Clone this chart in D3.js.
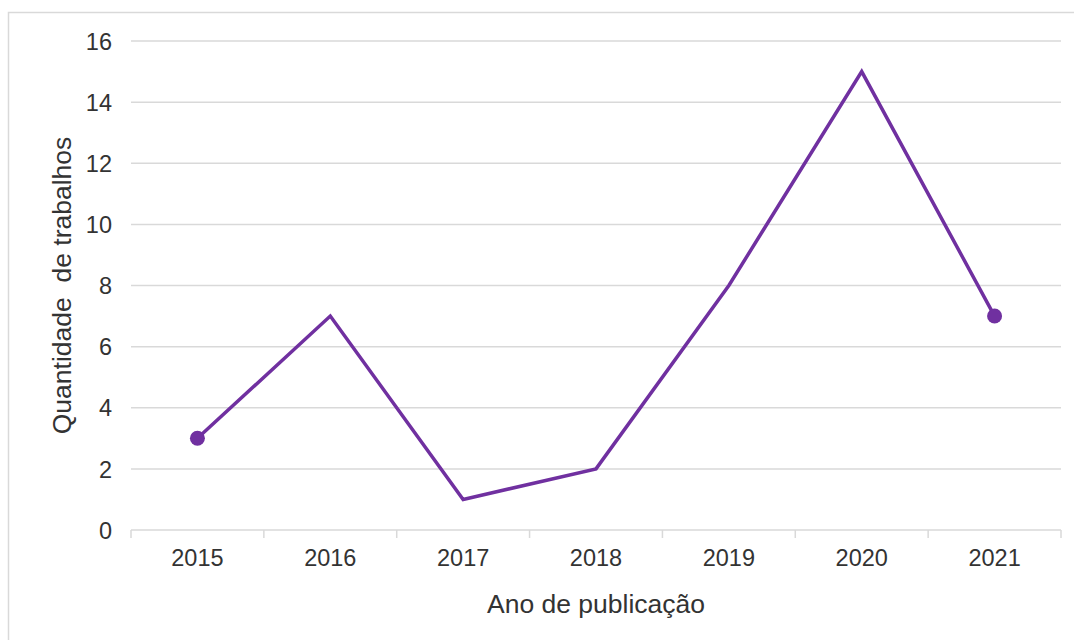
<!DOCTYPE html>
<html>
<head>
<meta charset="utf-8">
<script src="https://cdn.jsdelivr.net/npm/d3@7"></script>
<style>
  html, body { margin: 0; padding: 0; background: #fff; }
  svg { display: block; }
</style>
</head>
<body>
<svg id="chart" width="1074" height="640"></svg>
<script>
// Publications per year
const years = ["2015", "2016", "2017", "2018", "2019", "2020", "2021"];
const counts = [3, 7, 1, 2, 8, 15, 7];
const yTicks = [0, 2, 4, 6, 8, 10, 12, 14, 16];
const xTitle = "Ano de publicação";
const yTitle = "Quantidade\u00a0\u00a0de trabalhos";

const svg = d3.select("#chart");
const W = 1074, H = 640;
const plot = { left: 131, right: 1061, top: 41, bottom: 530 };
const font = "Liberation Sans, Arial, sans-serif";
const gridColor = "#d9d9d9";
const textColor = "#333333";
const lineColor = "#7030a0";

// outer chart frame
svg.append("rect")
  .attr("x", 8.5).attr("y", 12.5)
  .attr("width", W + 10).attr("height", H + 10)
  .attr("fill", "none").attr("stroke", gridColor).attr("stroke-width", 1.5);

const x = d3.scaleBand().domain(years).range([plot.left, plot.right]);
const y = d3.scaleLinear().domain([0, 16]).range([plot.bottom, plot.top]);

// horizontal gridlines
svg.append("g")
  .selectAll("line")
  .data(yTicks.filter(d => d > 0))
  .join("line")
  .attr("x1", plot.left).attr("x2", plot.right)
  .attr("y1", d => y(d)).attr("y2", d => y(d))
  .attr("stroke", gridColor).attr("stroke-width", 1.5);

// y axis labels
const yAxis = svg.append("g")
  .attr("transform", `translate(${plot.left - 19},0)`)
  .call(d3.axisLeft(y).tickValues(yTicks).tickSize(0).tickPadding(0));
yAxis.select(".domain").remove();
yAxis.selectAll("text")
  .attr("font-family", font).attr("font-size", 23.5)
  .attr("fill", textColor).attr("dy", "0.35em");

// x axis with category boundary ticks
const xAxis = svg.append("g")
  .attr("transform", `translate(0,${plot.bottom})`)
  .call(d3.axisBottom(x).tickSize(0).tickPadding(19));
xAxis.select(".domain").attr("stroke", gridColor).attr("stroke-width", 1.5)
  .attr("d", `M${plot.left},0H${plot.right}`);
xAxis.selectAll("text")
  .attr("font-family", font).attr("font-size", 23.5).attr("fill", textColor)
  .attr("dy", "0.71em");
const bounds = years.map(d => x(d)).concat([x(years[years.length - 1]) + x.bandwidth()]);
svg.append("g")
  .selectAll("line")
  .data(bounds)
  .join("line")
  .attr("x1", d => d).attr("x2", d => d)
  .attr("y1", plot.bottom).attr("y2", plot.bottom + 8)
  .attr("stroke", gridColor).attr("stroke-width", 1.5);

// series line
const line = d3.line()
  .x((d, i) => x(years[i]) + x.bandwidth() / 2)
  .y(d => y(d));
svg.append("path")
  .datum(counts)
  .attr("d", line)
  .attr("fill", "none")
  .attr("stroke", lineColor)
  .attr("stroke-width", 3.5)
  .attr("stroke-linejoin", "miter");

// markers on first and last points
const ends = [0, counts.length - 1];
svg.append("g")
  .selectAll("circle")
  .data(ends)
  .join("circle")
  .attr("cx", i => x(years[i]) + x.bandwidth() / 2)
  .attr("cy", i => y(counts[i]))
  .attr("r", 7.5)
  .attr("fill", lineColor);

// axis titles
svg.append("text")
  .attr("x", (plot.left + plot.right) / 2).attr("y", 613)
  .attr("text-anchor", "middle")
  .attr("font-family", font).attr("font-size", 26.5).attr("fill", textColor)
  .text(xTitle);

svg.append("text")
  .attr("transform", `translate(71,${(plot.top + plot.bottom) / 2}) rotate(-90)`)
  .attr("text-anchor", "middle")
  .attr("font-family", font).attr("font-size", 26.5).attr("fill", textColor)
  .text(yTitle);
</script>
</body>
</html>
